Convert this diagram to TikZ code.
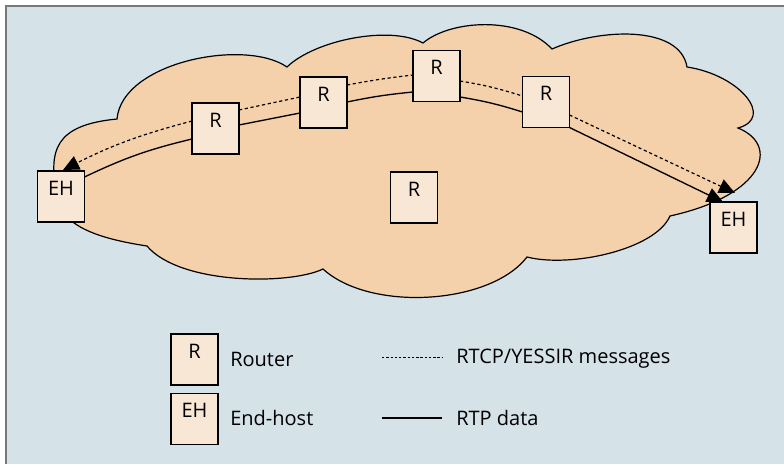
\documentclass[tikz,border=0pt]{standalone}
\usepackage{fontspec}
\setmainfont{Open Sans}
\usetikzlibrary{arrows.meta,calc}
\definecolor{panel}{RGB}{213,226,232}
\definecolor{frameline}{RGB}{120,120,120}
\definecolor{cloudfill}{RGB}{244,209,170}
\definecolor{boxfill}{RGB}{249,231,213}
\tikzset{
  unitbox/.style={draw=black, line width=1pt, fill=boxfill, rectangle,
    minimum width=35.25pt, minimum height=38.25pt, inner sep=0pt, outer sep=0pt},
  boxtext/.style={anchor=north, inner sep=0pt, yshift=-7.2pt, font=\fontsize{15}{17}\selectfont},
  legendtext/.style={anchor=base west, inner sep=0pt, font=\fontsize{15}{17}\selectfont},
  rtp/.style={draw=black, line width=1pt},
  rtcp/.style={draw=black, line width=0.9pt, dash pattern=on 2.4pt off 2pt},
  tip/.style={-{Triangle[length=12pt,width=11pt]}}
}
\begin{document}
\begin{tikzpicture}[x=0.75pt,y=-0.75pt]
\useasboundingbox (0,0) rectangle (784,464);
% panel and its frame
\fill[panel] (6,6) rectangle (784,464);
\draw[frameline, line width=1.5pt] (6,464) -- (6,6) -- (784,6);

% the network cloud
\filldraw[fill=cloudfill, draw=black, line width=0.9pt]
  (117,119) .. controls (122,62) and (245,38) .. (287,67)
  .. controls (315,40) and (390,25) .. (423,43)
  .. controls (450,20) and (520,15) .. (552,49)
  .. controls (600,28) and (680,25) .. (687,67)
  .. controls (740,75) and (775,118) .. (738,128)
  .. controls (780,145) and (765,195) .. (670,216)
  .. controls (655,250) and (570,268) .. (527,257)
  .. controls (490,305) and (370,312) .. (323,269)
  .. controls (290,285) and (180,285) .. (147,246)
  .. controls (95,238) and (60,225) .. (57,195)
  .. controls (48,150) and (55,125) .. (117,119) -- cycle;

% routers and end hosts
\node[unitbox, label={[boxtext]north:EH}] (eh1) at (61,196.5) {};
\node[unitbox, label={[boxtext]north:R}] (r1) at (215.5,128.5) {};
\node[unitbox, label={[boxtext]north:R}] (r2) at (323.5,102.5) {};
\node[unitbox, label={[boxtext]north:R}] (r3) at (436.5,76) {};
\node[unitbox, label={[boxtext]north:R}] (r4) at (546,102) {};
\node[unitbox, label={[boxtext]north:R}] (r5) at (414,197.5) {};
\node[unitbox, label={[boxtext]north:EH}] (eh2) at (733.5,227.5) {};

% RTP data path
\draw[rtp] ($(eh1.east)+(0,-19.5)$) to[bend left=6] ($(r1.west)+(0,10.5)$);
\draw[rtp] ($(r1.east)+(0,-3.5)$) -- ($(r2.west)+(0,10.5)$);
\draw[rtp] ($(r2.east)+(0,-0.5)$) to[bend left=3] ($(r3.west)+(0,16)$);
\draw[rtp] ($(r3.east)+(0,21)$) to[bend left=4] ($(r4.west)+(0,10)$);
\draw[rtp, tip] (r4.south east) -- ($(eh2.north)+(-10.5,0)$);

% RTCP/YESSIR message path
\draw[rtcp, tip] ($(r4.east)+(0,13)$) -- ($(eh2.north)+(1.5,-9)$);
\draw[rtcp] ($(r3.east)+(0,5)$) to[bend left=4] ($(r4.west)+(0,-6)$);
\draw[rtcp] ($(r2.east)+(0,-17.5)$) to[bend left=2] ($(r3.west)+(0,-1)$);
\draw[rtcp] ($(r1.east)+(0,-18.5)$) -- ($(r2.west)+(0,-5.5)$);
\draw[rtcp, tip] ($(r1.west)+(0,-7.5)$) to[bend right=6] ($(eh1.north)+(2,-1)$);

% legend
\node[unitbox, label={[boxtext]north:R}] (lr) at (194.5,359.5) {};
\node[unitbox, label={[boxtext]north:EH}] (le) at (194.5,419) {};
\node[legendtext] (lrt) at (230,366) {Router};
\node[legendtext] (let) at (230,425) {End-host};
\coordinate (ldA) at (382,357);
\coordinate (ldB) at (442,357);
\coordinate (lsA) at (382,418);
\coordinate (lsB) at (442,418);
\draw[draw=black, line width=0.7pt, dash pattern=on 1.8pt off 1.4pt] (ldA) -- (ldB);
\draw[rtp] (lsA) -- (lsB);
\node[legendtext] (ldt) at (456,363) {RTCP/YESSIR messages};
\node[legendtext] (lst) at (456,425) {RTP data};
\end{tikzpicture}
\end{document}
